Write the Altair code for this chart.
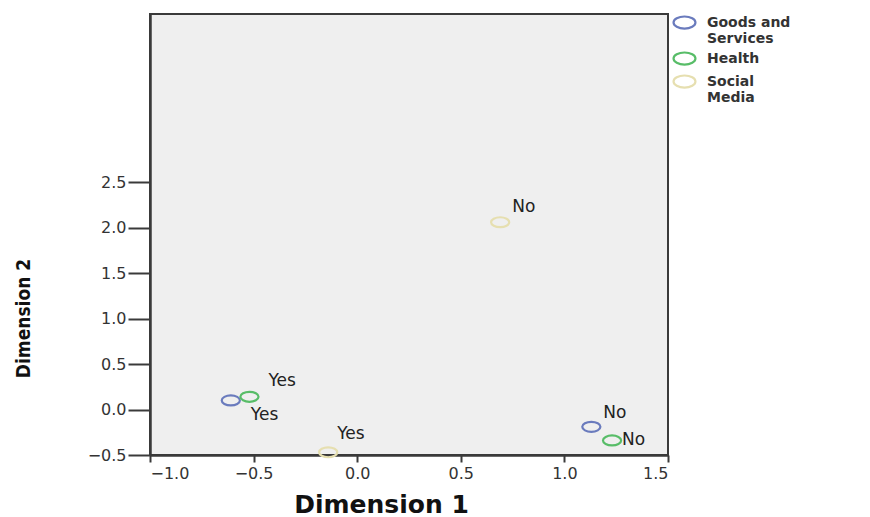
import altair as alt
import pandas as pd

# ---- data ----
categories = ["Goods and Services", "Goods and Services", "Health", "Health", "Social Media", "Social Media"]
answers = ["Yes", "No", "Yes", "No", "Yes", "No"]
dim1 = [-0.61, 1.13, -0.52, 1.23, -0.14, 0.69]
dim2 = [0.10, -0.19, 0.14, -0.34, -0.47, 2.06]

series = ["Goods and Services", "Health", "Social Media"]
colors = ["#6a7bbd", "#58bd68", "#e6dfb0"]
y_ticks = [-0.5, 0.0, 0.5, 1.0, 1.5, 2.0, 2.5]
x_ticks = [-1.0, -0.5, 0.0, 0.5, 1.0, 1.5]

df = pd.DataFrame({"cat": categories, "ans": answers, "d1": dim1, "d2": dim2})
df["key"] = df["cat"] + "|" + df["ans"]

# label placement (style): offsets of the text relative to the point
label_offsets = {
    "Goods and Services|Yes": (20, 15),
    "Goods and Services|No": (12, -14),
    "Health|Yes": (19, -16),
    "Health|No": (10, 0),
    "Social Media|Yes": (9, -18),
    "Social Media|No": (12, -15),
}

ellipse = "M-1,0A1,0.55,0,1,1,1,0A1,0.55,0,1,1,-1,0Z"

x = alt.X("d1:Q", scale=alt.Scale(domain=[-1.0, 1.5], nice=False, zero=False),
          axis=alt.Axis(title="Dimension 1", values=x_ticks, format=".1f",
                        titleX=231, titleY=49, titleAlign="center", titleBaseline="middle",
                        titleFont="DejaVu Sans", titleFontSize=25, titleFontWeight="bold",
                        titleColor="#111", tickSize=7, labelPadding=3))
y = alt.Y("d2:Q", scale=alt.Scale(domain=[-0.5, 4.35], nice=False, zero=False),
          axis=alt.Axis(title="Dimension 2", values=y_ticks, format=".1f",
                        titleX=-127, titleY=304, titleAngle=270, titleAlign="center",
                        titleBaseline="middle",
                        titleFont="DejaVu Sans Condensed", titleFontSize=19, titleFontWeight="bold",
                        titleColor="#111", tickSize=22, labelPadding=2))

color = alt.Color("cat:N", scale=alt.Scale(domain=series, range=colors),
                  legend=alt.Legend(title=None, orient="none", legendX=522, legendY=-4,
                                    symbolType=ellipse, symbolSize=480, symbolStrokeWidth=2.2,
                                    symbolFillColor="transparent",
                                    labelFont="DejaVu Sans", labelFontSize=14, labelFontWeight="bold",
                                    labelColor="#333", labelOffset=10, rowPadding=0,
                                    labelExpr="datum.label == 'Goods and Services' ? ['Goods and', 'Services'] : datum.label == 'Social Media' ? ['Social', 'Media'] : datum.label"))

points = alt.Chart(df).mark_point(shape=ellipse, size=330, strokeWidth=2.2, filled=False, opacity=1).encode(
    x=x, y=y, color=color)

layers = [points]
for key, (dx, dy) in label_offsets.items():
    layers.append(
        alt.Chart(df).transform_filter(alt.datum.key == key).mark_text(
            align="left", baseline="middle", dx=dx, dy=dy,
            font="DejaVu Sans", fontSize=17, color="#222").encode(x="d1:Q", y="d2:Q", text="ans:N")
    )

chart = alt.layer(*layers).properties(
    width=518, height=441,
    autosize=alt.AutoSizeParams(type="none"),
    padding={"left": 142, "top": 6, "right": 194, "bottom": 70},
).configure(
    style={"guide-label": {"lineHeight": 16}}
).configure_view(
    fill="#efefef", stroke="#3a3a3a", strokeWidth=2
).configure_axis(
    domainColor="#3a3a3a", domainWidth=2.5, tickColor="#3a3a3a", tickWidth=2,
    labelFont="DejaVu Sans", labelFontSize=16, labelColor="#333", grid=False
)

chart.save("out.html", embed_options={"renderer": "svg", "actions": False})
